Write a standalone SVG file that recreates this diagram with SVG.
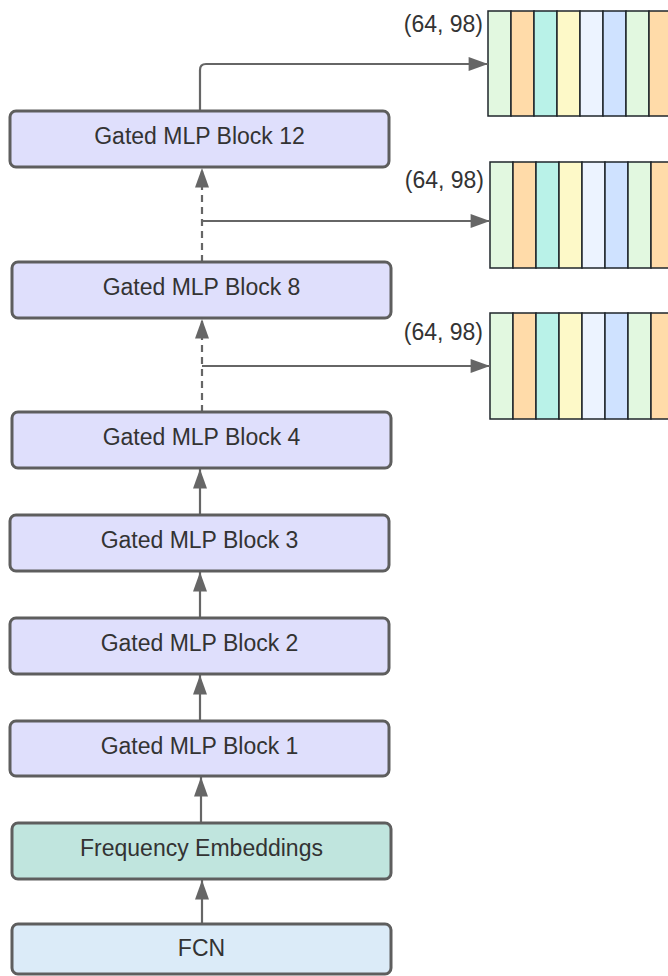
<svg xmlns="http://www.w3.org/2000/svg" width="668" height="976" viewBox="0 0 668 976">
<style>
.blk rect{stroke:#5e5e5e;stroke-width:3}
.mlp rect{fill:#dfdffc}
.fe rect{fill:#c0e5de}
.fcn rect{fill:#dbebf8}
text{font-family:"Liberation Sans",Arial,sans-serif;font-size:23px;fill:#333333}
.blk text{text-anchor:middle}
.lbl{text-anchor:end}
.conn path{fill:none;stroke:#666666;stroke-width:2.2}
.dash{stroke-dasharray:7 5}
.t rect{stroke:#1f262b;stroke-width:1.5}
.g{fill:#e2f8e0}.o{fill:#ffdba9}.c{fill:#b9f2e8}.y{fill:#fdf9c8}.w{fill:#ecf3ff}.b{fill:#cfe2ff}
</style>
<defs>
<marker id="ah" markerUnits="userSpaceOnUse" markerWidth="20" markerHeight="14" viewBox="0 0 18 13" refX="18" refY="6.5" orient="auto">
<path d="M0,0 L18,6.5 L0,13 Z" fill="#666666"/>
</marker>
</defs>

<g id="tensor1" class="t">
<rect class="g" x="488" y="11" width="23" height="105"/>
<rect class="o" x="511" y="11" width="23" height="105"/>
<rect class="c" x="534" y="11" width="23" height="105"/>
<rect class="y" x="557" y="11" width="23" height="105"/>
<rect class="w" x="580" y="11" width="23" height="105"/>
<rect class="b" x="603" y="11" width="23" height="105"/>
<rect class="g" x="626" y="11" width="23" height="105"/>
<rect class="o" x="649" y="11" width="23" height="105"/>
</g>
<g id="tensor2" class="t">
<rect class="g" x="490" y="162" width="23" height="106"/>
<rect class="o" x="513" y="162" width="23" height="106"/>
<rect class="c" x="536" y="162" width="23" height="106"/>
<rect class="y" x="559" y="162" width="23" height="106"/>
<rect class="w" x="582" y="162" width="23" height="106"/>
<rect class="b" x="605" y="162" width="23" height="106"/>
<rect class="g" x="628" y="162" width="23" height="106"/>
<rect class="o" x="651" y="162" width="23" height="106"/>
</g>
<g id="tensor3" class="t">
<rect class="g" x="490" y="313" width="23" height="106"/>
<rect class="o" x="513" y="313" width="23" height="106"/>
<rect class="c" x="536" y="313" width="23" height="106"/>
<rect class="y" x="559" y="313" width="23" height="106"/>
<rect class="w" x="582" y="313" width="23" height="106"/>
<rect class="b" x="605" y="313" width="23" height="106"/>
<rect class="g" x="628" y="313" width="23" height="106"/>
<rect class="o" x="651" y="313" width="23" height="106"/>
</g>
<g id="labels">
<text class="lbl" x="483" y="32">(64, 98)</text>
<text class="lbl" x="484" y="188">(64, 98)</text>
<text class="lbl" x="483" y="340">(64, 98)</text>
</g>

<g id="connectors" class="conn">
<path d="M202,924 V880" marker-end="url(#ah)"/>
<path d="M201,823 V777" marker-end="url(#ah)"/>
<path d="M200,721 V675" marker-end="url(#ah)"/>
<path d="M200,618 V572" marker-end="url(#ah)"/>
<path d="M200,515 V469" marker-end="url(#ah)"/>
<path class="dash" d="M202,412 V319" marker-end="url(#ah)"/>
<path class="dash" d="M202,262 V168" marker-end="url(#ah)"/>
<path d="M202,366 H490" marker-end="url(#ah)"/>
<path d="M202,221 H490" marker-end="url(#ah)"/>
<path d="M200,111 V70 Q200,64 206,64 H488" marker-end="url(#ah)"/>
</g>

<g id="block12" class="blk mlp"><rect x="10" y="111" width="379" height="56" rx="6"/><text x="199.5" y="144">Gated MLP Block 12</text></g>
<g id="block8" class="blk mlp"><rect x="12" y="262" width="379" height="56" rx="6"/><text x="201.5" y="295">Gated MLP Block 8</text></g>
<g id="block4" class="blk mlp"><rect x="12" y="412" width="379" height="56" rx="6"/><text x="201.5" y="445">Gated MLP Block 4</text></g>
<g id="block3" class="blk mlp"><rect x="10" y="515" width="379" height="56" rx="6"/><text x="199.5" y="548">Gated MLP Block 3</text></g>
<g id="block2" class="blk mlp"><rect x="10" y="618" width="379" height="56" rx="6"/><text x="199.5" y="651">Gated MLP Block 2</text></g>
<g id="block1" class="blk mlp"><rect x="10" y="721" width="379" height="55" rx="6"/><text x="199.5" y="754">Gated MLP Block 1</text></g>
<g id="freq" class="blk fe"><rect x="12" y="823" width="379" height="56" rx="6"/><text x="201.5" y="856">Frequency Embeddings</text></g>
<g id="fcn" class="blk fcn"><rect x="12" y="924" width="379" height="50" rx="6"/><text x="201.5" y="956">FCN</text></g>
</svg>
